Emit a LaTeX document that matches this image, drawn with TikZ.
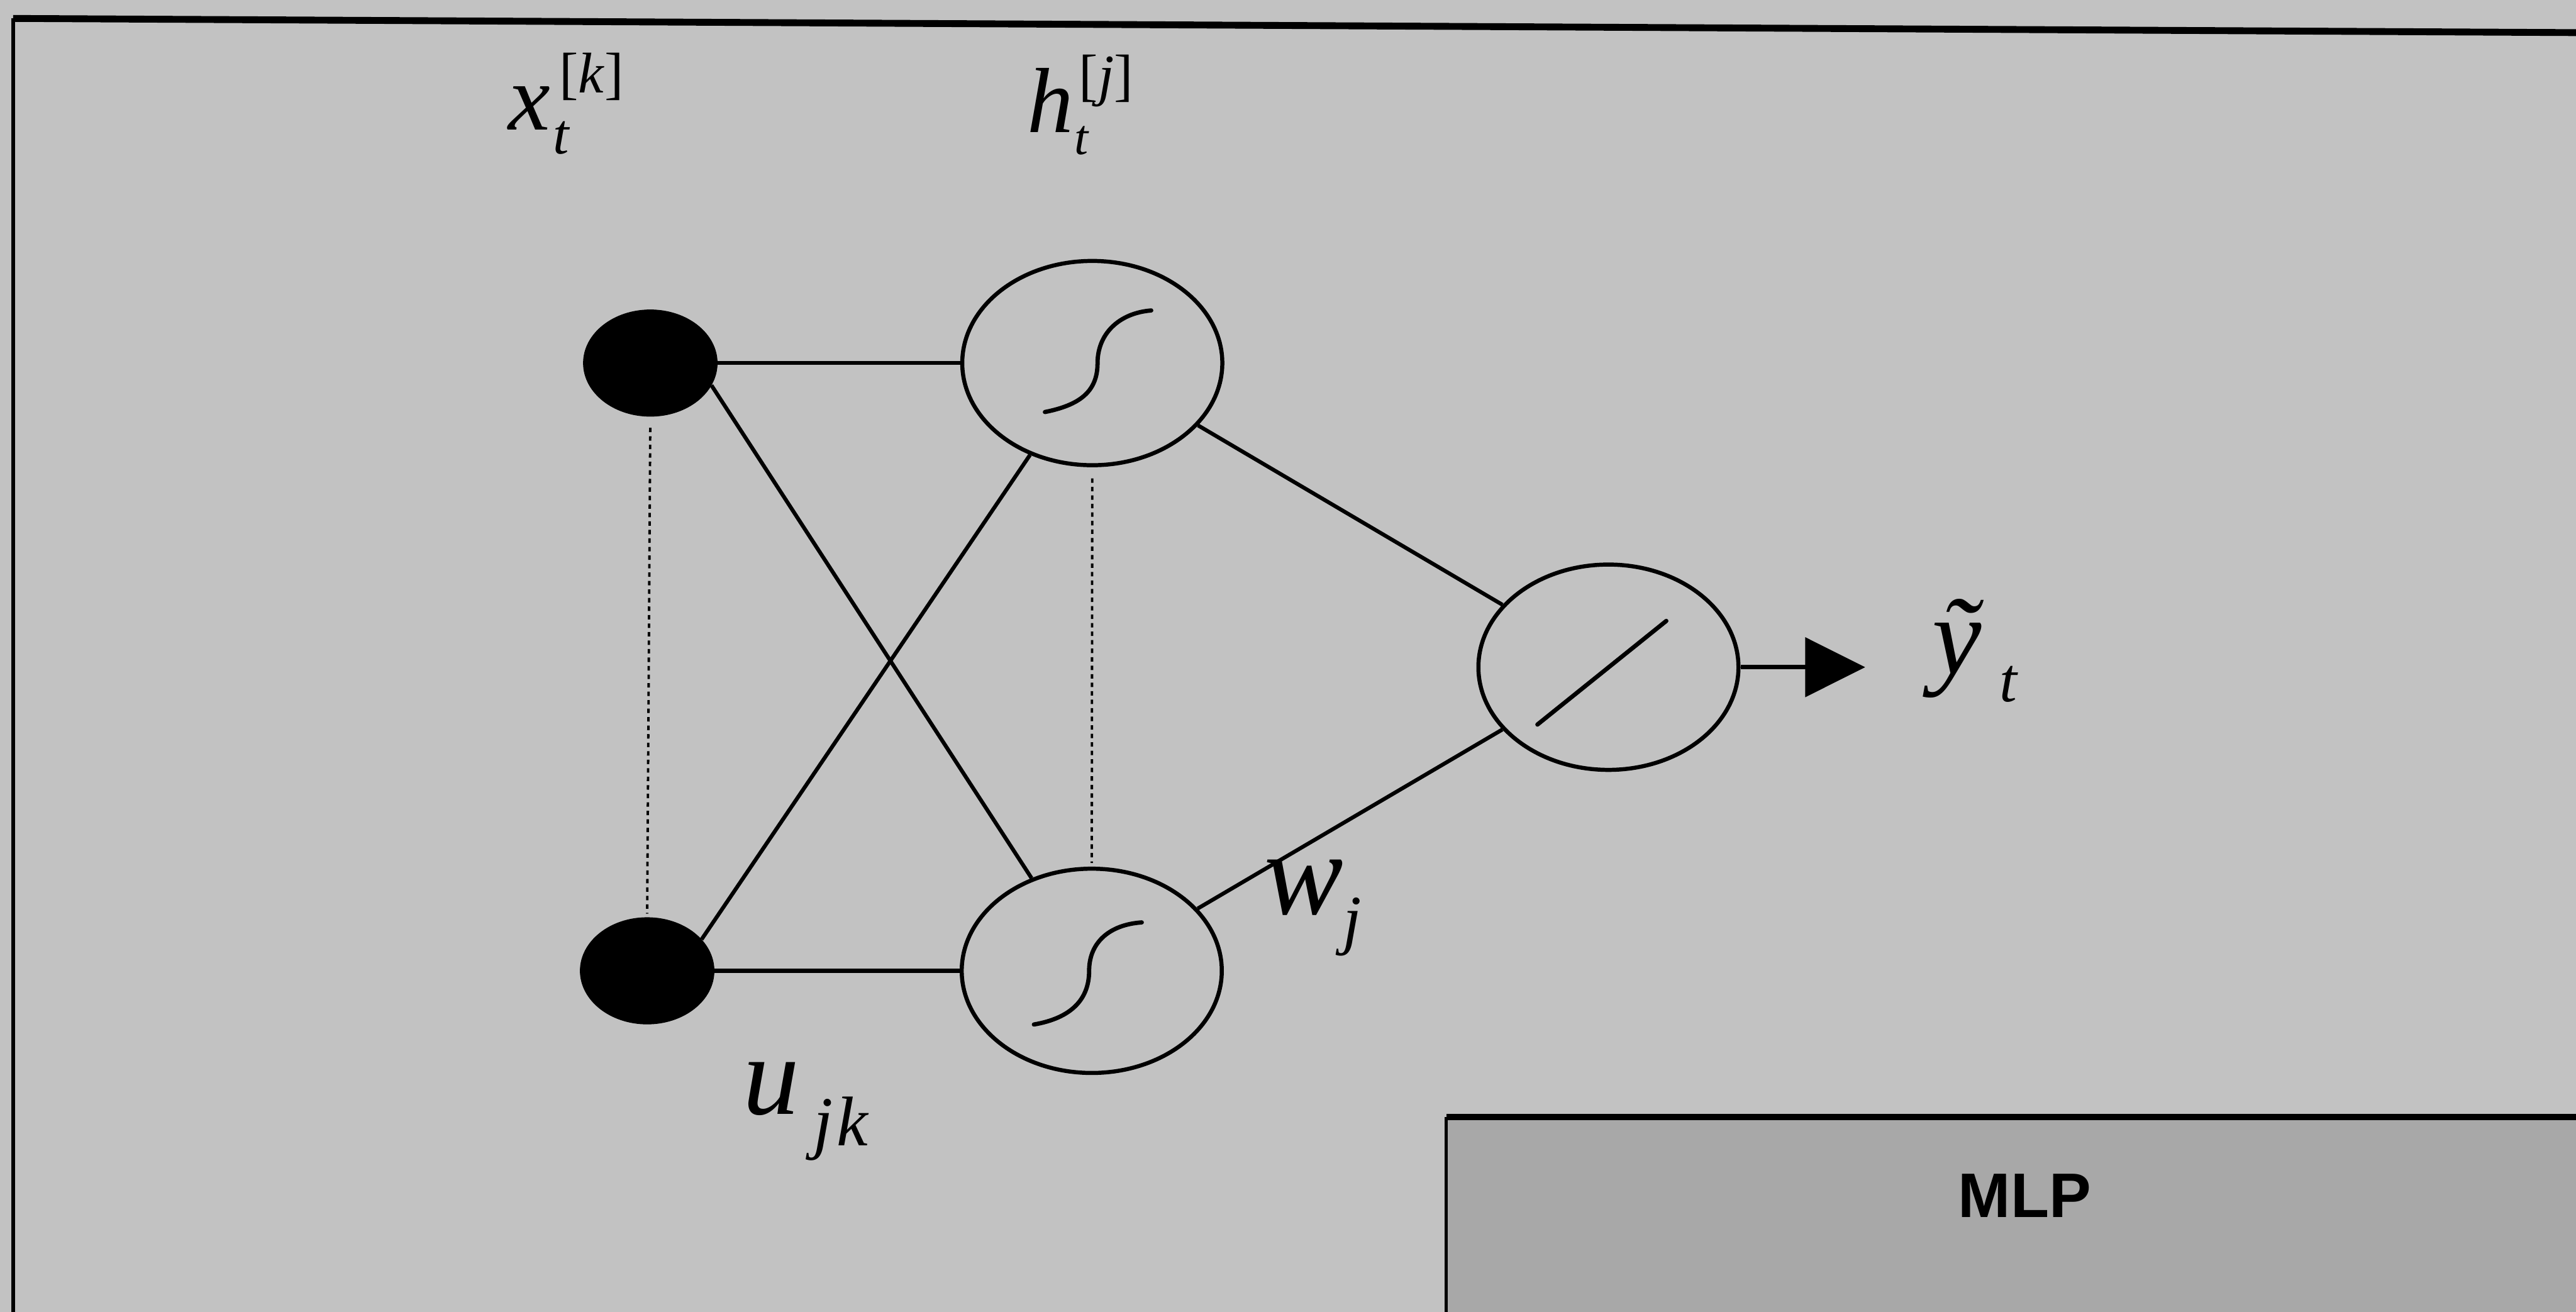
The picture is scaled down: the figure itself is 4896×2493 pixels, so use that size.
\documentclass[tikz,border=0pt]{standalone}
\usepackage{fontspec}
\setmainfont{Liberation Serif}
\newfontfamily\mlpfont{Liberation Sans}
\usetikzlibrary{shapes.geometric,arrows.meta}
\definecolor{bgc}{RGB}{194,194,194}
\definecolor{boxc}{RGB}{168,168,168}
\begin{document}
\begin{tikzpicture}[x=0.01cm,y=-0.01cm,
  inputnode/.style={ellipse,fill=black,draw=black,minimum width=2.54cm,minimum height=2.02cm,inner sep=0},
  unitnode/.style={ellipse,draw=black,line width=2.2pt,minimum width=4.94cm,minimum height=3.88cm,inner sep=0},
  conn/.style={line width=2.1pt},
  dotconn/.style={line width=1.3pt,dash pattern=on 2.4pt off 2.2pt},
  curve/.style={line width=2.3pt,line cap=round},
  lbl/.style={inner sep=0,anchor=base west},
  mainlbl/.style={lbl,font=\fontsize{#1}{#1}\selectfont\itshape},
  uplbl/.style={lbl,font=\fontsize{#1}{#1}\selectfont},
]
\useasboundingbox (0,0) rectangle (4896,2493);
\clip (0,0) rectangle (4896,2493);
\fill[bgc] (0,0) rectangle (4896,2493);
% outer frame
\draw[line width=3.7pt] (25,35) -- (4896,62);
\draw[line width=1.8pt] (25,35) -- (25,2493);
% MLP box
\fill[boxc] (2749,2123) rectangle (4950,2550);
\draw[line width=1.6pt] (2749,2123) -- (2749,2550);
\draw[line width=3.6pt] (2749,2123) -- (4950,2123);
\node[inner sep=0,anchor=base,font=\mlpfont\bfseries\fontsize{34}{34}\selectfont] (mlp) at (3848,2313) {MLP};
% nodes
\node[inputnode] (i1) at (1236,690) {};
\node[inputnode] (i2) at (1230,1845) {};
\node[unitnode] (h1) at (2076,690) {};
\node[unitnode] (h2) at (2075,1845) {};
\node[unitnode,minimum height=3.9cm] (o) at (3057,1268) {};
\coordinate (tip) at (3545,1268);
% connectors
\draw[conn] (i1) -- (h1);
\draw[conn] (i2) -- (h2);
\draw[conn] (i1.-20) -- (h2);
\draw[conn] (i2.30) -- (h1);
\draw[conn] (h1) -- (o);
\draw[conn] (h2) -- (o);
\draw[dotconn,shorten <=6pt,shorten >=2pt] (i1.south) -- (i2.north);
\draw[dotconn,shorten <=6pt,shorten >=2pt] (h1.south) -- (h2.north);
\draw[line width=2.4pt,-{Triangle[length=1.14cm,width=1.12cm]}] (o.east) -- (tip);
% activation glyphs
\begin{scope}[shift={(h1.center)}]
\draw[curve] (-90,93) .. controls (-25,80) and (10,55) .. (10,0) .. controls (10,-55) and (50,-95) .. (112,-100);
\end{scope}
\begin{scope}[shift={(h2.center)}]
\draw[curve] (-110,102) .. controls (-40,90) and (-5,55) .. (-5,0) .. controls (-5,-55) and (35,-88) .. (95,-92);
\end{scope}
\begin{scope}[shift={(o.center)}]
\draw[curve] (-135,109) -- (110,-88);
\end{scope}
% labels
\node[mainlbl=51] (xl) at (966,247) {x};
\node[mainlbl=31] (xt) at (1050,292) {t};
\node[uplbl=31] (xk) at (1062,176) {[\textit{k}]};
\node[mainlbl=50] (hl) at (1952,252) {h};
\node[mainlbl=27] (ht) at (2042,293) {t};
\node[uplbl=31] (hj) at (2050,180) {[\textit{j}]};
\node[mainlbl=61] (ul) at (1412,2118) {u};
\node[mainlbl=38] (ujk) at (1545,2177) {j\kern0.06em k};
\node[mainlbl=64] (wl) at (2402,1737) {w};
\node[mainlbl=36] (wj) at (2552,1790) {j};
\node[mainlbl=60] (yl) at (3672,1281) {ỹ};
\node[mainlbl=34] (yt) at (3800,1333) {t};
\end{tikzpicture}
\end{document}
